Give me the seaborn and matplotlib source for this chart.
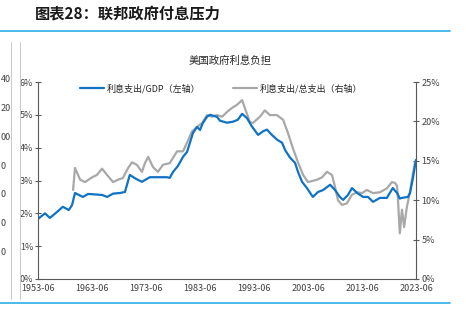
import numpy as np
import pandas as pd
import matplotlib
matplotlib.use("Agg")
import matplotlib.pyplot as plt
import seaborn as sns
from matplotlib.lines import Line2D

# ---- data ----
gdp_years = [1953.5, 1954.8, 1955.7, 1957.0, 1958.1, 1959.2, 1959.8, 1960.35, 1961.8, 1962.8,
             1965.35, 1966.3, 1967.4, 1968.7, 1969.6, 1970.5, 1971.65, 1972.75, 1974.2, 1977.4,
             1977.9, 1978.5, 1979.4, 1980.35, 1981.1, 1981.5, 1982.2, 1982.95, 1983.5, 1984.05,
             1984.8, 1985.35, 1986.65, 1987.2, 1988.5, 1989.6, 1990.5, 1991.3, 1992.2, 1993.1,
             1994.25, 1995.2, 1995.9, 1996.8, 1997.8, 1998.7, 1999.25, 2000.2, 2001.1, 2001.65,
             2002.4, 2003.3, 2004.4, 2005.35, 2006.3, 2007.6, 2008.5, 2009.4, 2010.0, 2010.9,
             2011.65, 2012.6, 2013.7, 2014.6, 2015.55, 2016.8, 2018.1, 2019.2, 2020.0, 2020.5,
             2020.9, 2022.0, 2022.4, 2022.9, 2023.5]
gdp_vals = [1.83, 2.0, 1.86, 2.04, 2.2, 2.1, 2.25, 2.62, 2.5, 2.59,
            2.56, 2.5, 2.6, 2.62, 2.65, 3.17, 3.05, 2.96, 3.1, 3.1,
            3.08, 3.26, 3.44, 3.72, 3.87, 4.08, 4.45, 4.63, 4.54, 4.76,
            4.94, 5.0, 4.94, 4.82, 4.76, 4.79, 4.85, 5.03, 4.9, 4.65,
            4.39, 4.5, 4.55, 4.39, 4.24, 4.15, 3.93, 3.69, 3.54, 3.26,
            2.96, 2.77, 2.5, 2.65, 2.71, 2.87, 2.71, 2.5, 2.41, 2.56,
            2.77, 2.62, 2.5, 2.5, 2.35, 2.47, 2.47, 2.77, 2.62, 2.45,
            2.47, 2.5, 2.62, 3.05, 3.63]

exp_years = [1960.0, 1960.35, 1961.3, 1962.2, 1963.5, 1964.4, 1965.35, 1966.3, 1967.4, 1968.3,
             1969.2, 1970.2, 1970.9, 1971.8, 1972.75, 1973.3, 1973.9, 1974.8, 1975.7, 1976.65,
             1977.9, 1979.25, 1980.35, 1981.1, 1982.0, 1982.95, 1983.9, 1984.8, 1985.7, 1986.65,
             1987.6, 1988.5, 1989.4, 1990.35, 1991.3, 1991.8, 1992.75, 1993.3, 1994.6, 1995.5,
             1996.45, 1997.75, 1998.9, 1999.8, 2000.7, 2001.65, 2002.6, 2003.5, 2005.2, 2006.1,
             2007.0, 2007.95, 2008.5, 2009.05, 2009.8, 2010.7, 2011.65, 2012.6, 2013.5, 2014.4,
             2015.55, 2016.8, 2018.1, 2019.05, 2019.6, 2020.0, 2020.2, 2020.5, 2020.9, 2021.3,
             2021.8, 2022.2, 2022.75, 2023.3]
exp_vals = [11.3, 14.1, 12.6, 12.3, 12.9, 13.2, 14.0, 13.2, 12.3, 12.6,
            12.8, 14.1, 14.8, 14.5, 13.6, 14.7, 15.5, 14.2, 13.6, 14.5,
            14.7, 16.2, 16.2, 17.3, 18.7, 19.3, 19.8, 20.8, 20.6, 20.8,
            20.6, 21.2, 21.7, 22.1, 22.7, 21.7, 19.9, 19.8, 20.6, 21.4,
            20.8, 20.8, 20.2, 18.5, 16.6, 14.8, 13.2, 12.3, 12.6, 12.9,
            13.6, 13.2, 11.7, 10.0, 9.4, 9.6, 10.7, 11.0, 10.9, 11.3,
            10.9, 11.0, 11.5, 12.3, 12.2, 11.8, 9.6, 5.8, 8.8, 6.6,
            9.1, 10.4, 12.6, 14.8]

tick_years = [1953.5, 1963.5, 1973.5, 1983.5, 1993.5, 2003.5, 2013.5, 2023.5]
tick_labels = ["1953-06", "1963-06", "1973-06", "1983-06", "1993-06", "2003-06", "2013-06", "2023-06"]
left_ticks = [0, 1, 2, 3, 4, 5, 6]
right_ticks = [0, 5, 10, 15, 20, 25]
# visible remnants of the neighbouring chart's axis labels
side_labels = ["40", "20", "00", "0", "0", "0", "0"]

label_gdp = "利息支出/GDP（左轴）"
label_exp = "利息支出/总支出（右轴）"

df_gdp = pd.DataFrame({"year": gdp_years, "value": gdp_vals})
df_exp = pd.DataFrame({"year": exp_years, "value": exp_vals})

sns.set_theme(style="white")
plt.rcParams["font.family"] = ["Noto Sans CJK SC", "DejaVu Sans"]

W, H = 466, 323
fig = plt.figure(figsize=(W / 100, H / 100), dpi=100)

def fx(px):
    return px / W

def fy(py):
    return 1 - py / H

ax = fig.add_axes([fx(38), fy(279), fx(416) - fx(38), fy(82) - fy(279)])
ax2 = ax.twinx()

blue = "#0f72c4"
gray = "#a8a8a8"

sns.lineplot(data=df_exp, x="year", y="value", ax=ax2, color=gray, linewidth=1.6,
             label=label_exp, legend=False)
sns.lineplot(data=df_gdp, x="year", y="value", ax=ax, color=blue, linewidth=1.6,
             label=label_gdp, legend=False)
ax.set_zorder(ax2.get_zorder() + 1)
ax.patch.set_visible(False)

ax.set_xlim(1953.5, 2023.5)
ax.set_ylim(0, 6)
ax2.set_ylim(0, 25)
ax.set_xticks(tick_years)
ax.set_xticklabels(tick_labels)
ax.set_yticks(left_ticks)
ax.set_yticklabels([f"{v}%" for v in left_ticks])
ax2.set_yticks(right_ticks)
ax2.set_yticklabels([f"{v}%" for v in right_ticks])
ax.set_xlabel("")
ax.set_ylabel("")
ax2.set_ylabel("")

spine_c = "#595959"
tick_c = "#404040"
for a in (ax, ax2):
    a.grid(False)
    a.spines["top"].set_visible(False)
    for s in ("left", "right", "bottom"):
        a.spines[s].set_color(spine_c)
        a.spines[s].set_linewidth(0.8)
ax.spines["right"].set_visible(False)
ax2.spines["left"].set_visible(False)
ax2.spines["bottom"].set_visible(False)

ax.tick_params(axis="both", direction="inout", length=4, width=0.8, color=spine_c,
               labelsize=6.5, labelcolor=tick_c, pad=1.5)
ax2.tick_params(axis="y", direction="inout", length=4, width=0.8, color=spine_c,
                labelsize=6.5, labelcolor=tick_c, pad=2)

# legend
h1 = Line2D([], [], color=blue, linewidth=1.6)
h2 = Line2D([], [], color=gray, linewidth=1.6)
leg = ax.legend([h1, h2], [label_gdp, label_exp], ncol=2, frameon=False,
                loc="upper left", bbox_to_anchor=(fx(78), fy(82)),
                bbox_transform=fig.transFigure, fontsize=6.5, handlelength=2.7,
                handletextpad=0.3, columnspacing=3.6, borderaxespad=0, borderpad=0.2)
for t in leg.get_texts():
    t.set_color("#262626")

# chart subtitle
fig.text(fx(230), fy(61), "美国政府利息负担", ha="center", va="center", fontsize=7.5, color="#262626")

# report title
fig.text(fx(35), fy(14), "图表28：联邦政府付息压力", ha="left", va="center", fontsize=11,
         fontweight="bold", fontstyle="italic", color="#1a1a1a")

# decorative rules
fig.add_artist(Line2D([0, fx(450)], [fy(31), fy(31)], color="#3cb4e6", linewidth=1.3,
                      transform=fig.transFigure))
fig.add_artist(Line2D([0, fx(450)], [fy(303), fy(303)], color="#3cb4e6", linewidth=1.3,
                      transform=fig.transFigure))
for xp in (11, 20):
    fig.add_artist(Line2D([fx(xp), fx(xp)], [fy(42), fy(299)], color="#c8c8c8", linewidth=0.7,
                          transform=fig.transFigure))

# remnants of neighbouring chart labels
for i, s in enumerate(side_labels):
    fig.text(fx(0.5), fy(80 + i * 28.7), s, ha="left", va="center", fontsize=6.5, color="#404040")

fig.savefig("out.png", dpi=100)
